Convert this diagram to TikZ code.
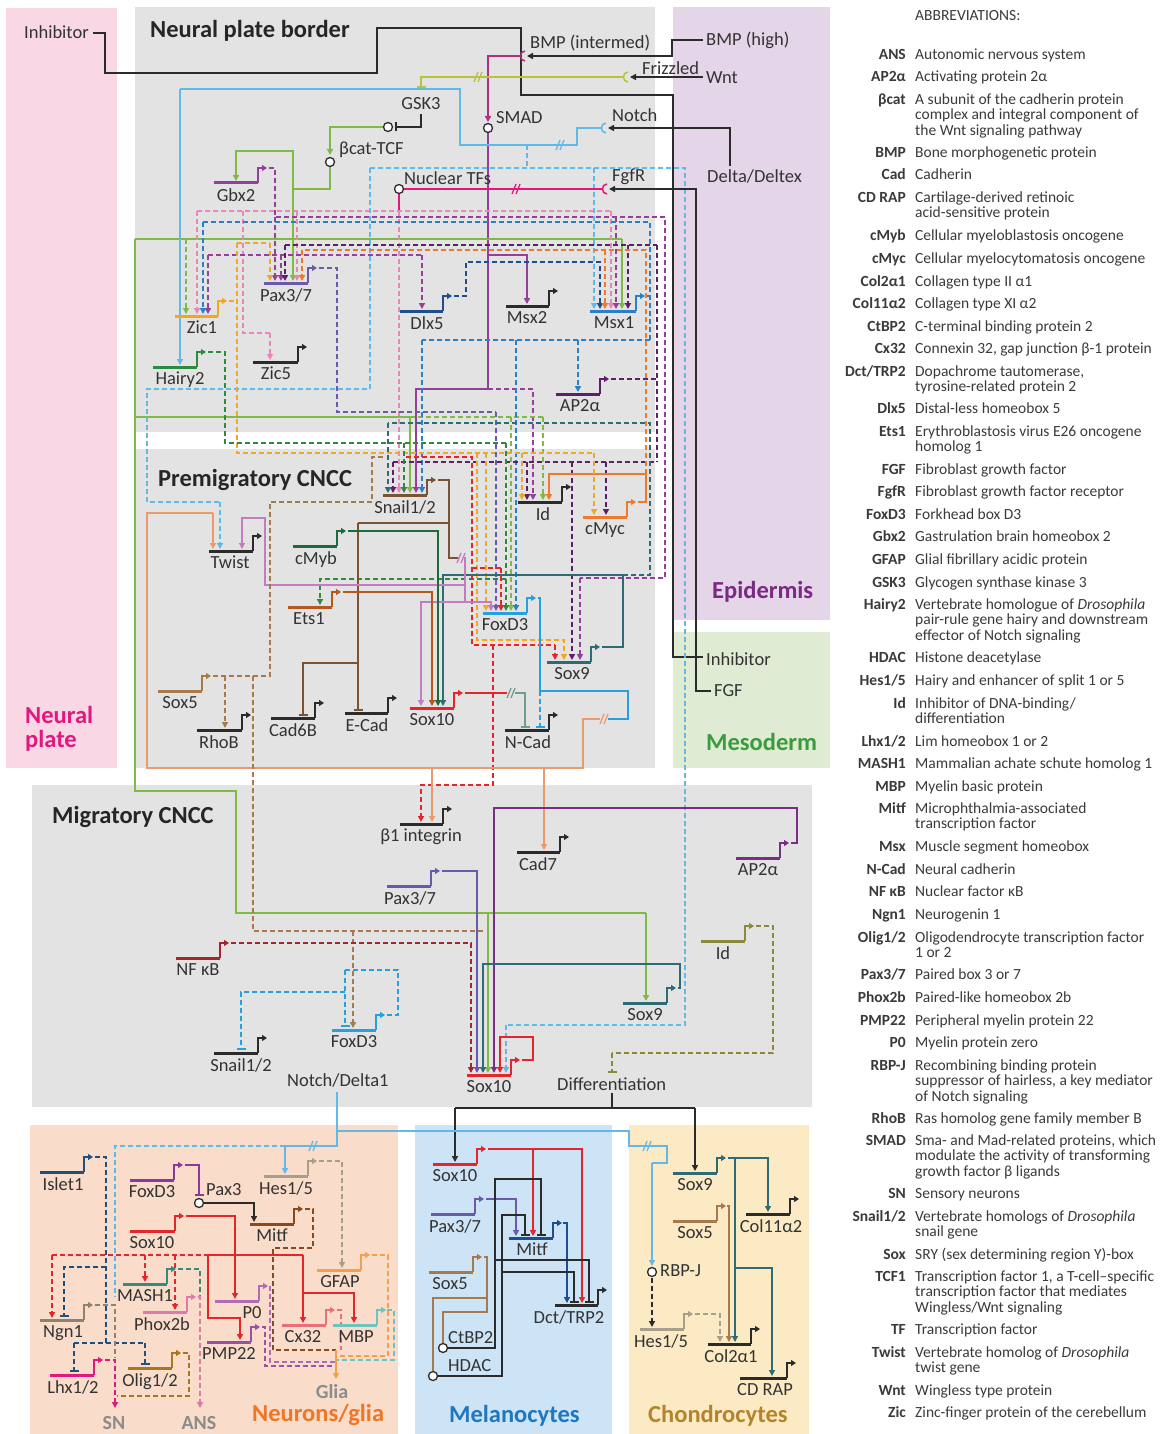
\documentclass[tikz,border=0pt]{standalone}
\usepackage{fontspec}
\setmainfont{Carlito}
\usetikzlibrary{arrows.meta}
\definecolor{ink}{HTML}{2B2B2B}
\definecolor{txt}{HTML}{333333}
\definecolor{abtxt}{HTML}{3A3A3A}
\definecolor{bgGray}{HTML}{E3E3E3}
\definecolor{npPink}{HTML}{F9D7E4}
\definecolor{epiPurple}{HTML}{E4D5E9}
\definecolor{mesoGreen}{HTML}{DFEBD2}
\definecolor{neurPeach}{HTML}{FADCCA}
\definecolor{melBlue}{HTML}{CDE3F6}
\definecolor{chonYellow}{HTML}{FCEAC4}
\definecolor{cMag}{HTML}{E2187F}
\definecolor{cMagP}{HTML}{B0307F}
\definecolor{cPink}{HTML}{EC86B8}
\definecolor{cPurple}{HTML}{93409B}
\definecolor{cPurple2}{HTML}{7B2D83}
\definecolor{cDP}{HTML}{5E1F6A}
\definecolor{cLav}{HTML}{6A5BAA}
\definecolor{cBlue}{HTML}{2B7FC6}
\definecolor{cSky}{HTML}{27A0DE}
\definecolor{cSkyL}{HTML}{62B9E8}
\definecolor{cDkBlue}{HTML}{1F4E8C}
\definecolor{cDkBlue2}{HTML}{21507E}
\definecolor{cGreen}{HTML}{7FBA44}
\definecolor{cYG}{HTML}{B7C33A}
\definecolor{cDkGreen}{HTML}{2E8B3E}
\definecolor{cDkGreen2}{HTML}{1E6B3A}
\definecolor{cOrange}{HTML}{F2A81E}
\definecolor{cOrange2}{HTML}{EE7A2E}
\definecolor{cOrangeL}{HTML}{F2A04E}
\definecolor{cSalmon}{HTML}{EB9A6D}
\definecolor{cBrown}{HTML}{7A5332}
\definecolor{cBrown2}{HTML}{A57B4D}
\definecolor{cRust}{HTML}{B3581F}
\definecolor{cTeal}{HTML}{2F6B74}
\definecolor{cGrayGreen}{HTML}{6E9E8E}
\definecolor{cRed}{HTML}{E3262B}
\definecolor{cDkRed}{HTML}{A3262B}
\definecolor{cOlive}{HTML}{8A8A3A}
\definecolor{cLilac}{HTML}{C57BC0}
\definecolor{cTan}{HTML}{A89E8C}
\definecolor{cMitf}{HTML}{8B4A1C}
\definecolor{cTealG}{HTML}{3A8A7A}
\definecolor{cGrayB}{HTML}{8E8270}
\definecolor{cPink2}{HTML}{E07AAE}
\definecolor{cPurpL}{HTML}{B36BB8}
\definecolor{cPinkR}{HTML}{E8707A}
\definecolor{cTealL}{HTML}{6CC4BE}
\definecolor{cPurpM}{HTML}{9B50A8}
\definecolor{cPurpleN}{HTML}{8B3A9B}
\definecolor{cOlB}{HTML}{A8781C}
\definecolor{labGray}{HTML}{8C8C8C}
\definecolor{cNeur}{HTML}{EE7624}
\definecolor{cMel}{HTML}{1E77BF}
\definecolor{cChon}{HTML}{B3842B}
\definecolor{cEpi}{HTML}{7A2A82}
\definecolor{cMeso}{HTML}{3B9B3F}
\newcommand\genefont{\fontsize{18.5}{21}\selectfont}
\newcommand\regfont{\fontsize{24.5}{24}\selectfont\bfseries}
\newcommand\abfont{\fontsize{15.5}{15.5}\selectfont}
\tikzset{
  ln/.style={line width=1.8pt},
  ac/.style={ln,-{Triangle[length=6pt,width=6pt]}},
  ih/.style={ln,-{Bar[width=9pt]}},
  ds/.style={dash pattern=on 5pt off 3pt},
  bk/.style={line width=2pt,draw=ink},
  gbar/.style={line width=3pt},
  gpro/.style={line width=2.2pt,-{Triangle[length=5pt,width=6pt]}},
  glab/.style={anchor=north,inner sep=0pt,font=\genefont,text=txt},
  tl/.style={anchor=west,inner sep=0pt,font=\genefont,text=txt},
  reg/.style={anchor=west,inner sep=0pt,font=\regfont,text=black!85},
  tfc/.style={circle,draw=ink,fill=white,line width=1.3pt,minimum size=9pt,inner sep=0pt},
}
\newcommand\gene[7]{%
  \draw[gbar,#2] (#3,#5) -- (#4,#5);
  \draw[gpro,#2] (#4,#5) -- (#4,#5-15) -- (#4+9,#5-15);
  \node[glab] (#1) at (#7,#5+5) {#6};}
\newcommand\brk[3]{\draw[#3,line width=1.3pt] (#1-4,#2+5) -- (#1,#2-5) (#1,#2+5) -- (#1+4,#2-5);}
\newcommand\rcp[3]{\draw[#3,line width=1.5pt] (#1+4,#2-5) .. controls (#1-2,#2-5) and (#1-2,#2+5) .. (#1+4,#2+5);}
\newcommand\abbr[4]{%
  \node[anchor=north east,inner sep=0pt,font=\abfont\bfseries,text=abtxt] (ak#1) at (906,#2) {\strut #3};
  \node[anchor=north west,inner sep=0pt,font=\abfont,text=abtxt,align=left] (ad#1) at (915,#2) {\strut #4};}
\begin{document}
\begin{tikzpicture}[x=1pt,y=-1pt]
\useasboundingbox (0,0) rectangle (1163,1434);
\fill[white] (0,0) rectangle (1163,1434);
% ---------- regions
\fill[npPink] (6,8) rectangle (117,768);
\fill[bgGray] (135,7) rectangle (655,432);
\fill[bgGray] (135,449) rectangle (655,768);
\fill[epiPurple] (673,7) rectangle (830,620);
\fill[mesoGreen] (673,632) rectangle (830,768);
\fill[bgGray] (32,785) rectangle (812,1107);
\fill[neurPeach] (30,1125) rectangle (398,1434);
\fill[melBlue] (415,1125) rectangle (612,1434);
\fill[chonYellow] (629,1125) rectangle (809,1434);

% ---------- top signalling
\draw[bk] (93,33) -- (105,33) -- (105,73) -- (377,73) -- (377,28) -- (521,28) -- (521,95) -- (673,95) -- (673,657) -- (703,657);
\draw[bk,ac] (703,40) -- (672,40) -- (672,56) -- (527,56);
\rcp{521}{56}{cMagP}
\draw[ln,cMagP,ac] (520,56) -- (488,56) -- (488,122);
\node[tfc] (smad) at (488,128) {};
\draw[ln,cPurple,ac] (488,133) -- (488,389) -- (416,389) -- (416,493);
\draw[ln,cPurple,ac] (488,255) -- (527,255) -- (527,304);
\draw[ln,cPurple,ds,ac] (488,389) -- (533,389) -- (533,500);
% Wnt
\draw[bk,ac] (703,77) -- (630,77);
\rcp{624}{77}{cYG}
\draw[ln,cYG,ih] (623,77) -- (421,77) -- (421,88);
\brk{478}{77}{cYG}
\draw[bk,ih] (421,114) -- (421,127) -- (395,127);
\node[tfc] (bcat) at (388,127) {};
\draw[ln,cGreen,ac] (383,127) -- (330,127) -- (330,155);
\node[tfc] (bcattcf) at (330,162) {};
\draw[ln,cGreen,ac] (330,167) -- (330,189) -- (293,189) -- (293,151) -- (236,151) -- (236,181);
\draw[ln,cGreen,ac] (293,189) -- (293,281);
% long green
\draw[ln,cGreen] (135,239) -- (622,239);
\draw[ln,cGreen,ac] (622,239) -- (622,309);
\draw[ln,cGreen] (135,239) -- (135,791) -- (236,791) -- (236,913) -- (646,913);
\draw[ln,cGreen,ac] (646,913) -- (646,1001);
\draw[ln,cGreen,ac] (488,913) -- (488,1073);
\draw[ln,cGreen,ac] (135,417) -- (410,417) -- (410,493);
\draw[ln,cGreen,ds,ac] (186,239) -- (186,314);
\draw[ln,cGreen,ds] (410,417) -- (543,417);
\draw[ln,cGreen,ds,ac] (543,417) -- (543,500);
\draw[ln,cGreen,ds,ac] (511,417) -- (511,611);
% Notch
\draw[bk,ac] (730,166) -- (730,128) -- (608,128);
\rcp{602}{128}{cSkyL}
\draw[ln,cSkyL] (601,128) -- (577,128) -- (577,145) -- (460,145) -- (460,89) -- (180,89);
\draw[ln,cSkyL,ac] (180,89) -- (180,365);
\brk{560}{145}{cSkyL}
\draw[ln,cSkyL,ds] (527,145) -- (527,168);
\draw[ln,cSkyL,ds] (370,168) -- (685,168) -- (685,1025) -- (506,1025);
\draw[ln,cSkyL,ds,ac] (506,1025) -- (506,1073);
\draw[ln,cSkyL,ds,ac] (594,168) -- (594,309);
\draw[ln,cSkyL,ds] (370,168) -- (370,389) -- (147,389) -- (147,502) -- (220,502);
\draw[ln,cSkyL,ds,ac] (220,502) -- (220,549);
% FGF
\draw[bk,ac] (711,691) -- (696,691) -- (696,189) -- (609,189);
\rcp{603}{189}{cMag}
\draw[ln,cMag] (602,189) -- (404,189);
\node[tfc] (ntf) at (399,189) {};
\brk{516}{189}{cMag}
\draw[ln,cMag] (399,194) -- (399,211);
% pink bus
\draw[ln,cPink,ds] (197,211) -- (611,211);
\draw[ln,cPink,ds,ac] (197,211) -- (197,314);
\draw[ln,cPink,ds] (243,211) -- (243,333) -- (270,333);
\draw[ln,cPink,ds,ac] (270,333) -- (270,360);
\draw[ln,cPink,ds,ac] (297,211) -- (297,281);
\draw[ln,cPink,ds,ac] (399,211) -- (399,493);
\draw[ln,cPink,ds,ac] (611,211) -- (611,309);
% Gbx2 outputs
\draw[ln,cPurple,ds] (269,168) -- (275,168) -- (275,217) -- (665,217) -- (665,578) -- (580,578);
\draw[ln,cPurple,ds,ac] (580,578) -- (580,660);
\draw[ln,cPurple,ds,ac] (275,217) -- (275,281);
\draw[ln,cPurple,ds,ac] (616,217) -- (616,309);
\draw[ln,cPurple,ds] (208,255) -- (422,255);
\draw[ln,cPurple,ds,ac] (208,255) -- (208,314);
\draw[ln,cPurple,ds,ac] (281,255) -- (281,281);
\draw[ln,cPurple,ds,ac] (422,255) -- (422,309);
% Msx1 outputs
\draw[ln,cBlue,ds] (647,296) -- (650,296);
\draw[ln,cBlue,ds] (650,340) -- (650,222) -- (203,222);
\draw[ln,cBlue,ds,ac] (203,222) -- (203,314);
\draw[ln,cBlue,ds] (650,340) -- (422,340);
\draw[ln,cBlue,ds,ac] (422,340) -- (422,493);
\draw[ln,cBlue,ds,ac] (516,340) -- (516,611);
\draw[ln,cBlue,ds,ac] (578,340) -- (578,392);
% Dlx5 output
\draw[ln,cDkBlue,ds,ac] (454,296) -- (466,296) -- (466,262) -- (600,262) -- (600,309);
% AP2a outputs
\draw[ln,cDP,ds] (611,379) -- (657,379);
\draw[ln,cDP,ds] (657,245) -- (657,462);
\draw[ln,cDP,ds] (285,245) -- (657,245);
\draw[ln,cDP,ds,ac] (285,245) -- (285,281);
\draw[ln,cDP,ds,ac] (628,245) -- (628,309);
\draw[ln,cDP,ds] (393,462) -- (657,462);
\draw[ln,cDP,ds,ac] (393,462) -- (393,493);
\draw[ln,cDP,ds,ac] (527,462) -- (527,500);
\draw[ln,cDP,ds,ac] (572,462) -- (572,660);
\draw[ln,cDP,ds,ac] (606,462) -- (606,515);
% cMyc outputs
\draw[ln,cOrange2,ac] (638,502) -- (646,502) -- (646,474) -- (549,474) -- (549,500);
\draw[ln,cOrange2,ds] (646,474) -- (646,250) -- (302,250);
\draw[ln,cOrange2,ds,ac] (302,250) -- (302,281);
\draw[ln,cOrange2,ds,ac] (605,250) -- (605,309);
% Zic1 outputs
\draw[ln,cOrange,ds] (229,301) -- (237,301);
\draw[ln,cOrange,ds] (237,243) -- (237,453) -- (594,453);
\draw[ln,cOrange,ds] (237,243) -- (270,243);
\draw[ln,cOrange,ds,ac] (270,243) -- (270,281);
\draw[ln,cOrange,ds,ac] (594,453) -- (594,515);
\draw[ln,cOrange,ds,ac] (522,453) -- (522,500);
\draw[ln,cOrange,ds,ac] (486,453) -- (486,611);
\draw[ln,cOrange,ds,ac] (477,453) -- (477,640) -- (564,640) -- (564,660);
% Pax3/7 outputs
\draw[ln,cLav,ds] (319,268) -- (337,268) -- (337,412) -- (496,412);
\draw[ln,cLav,ds,ac] (496,412) -- (496,611);
% Hairy2 outputs
\draw[ln,cDkGreen,ds] (208,352) -- (225,352) -- (225,443) -- (506,443);
\draw[ln,cDkGreen,ds,ac] (506,443) -- (506,611);
\draw[ln,cDkGreen,ds,ac] (404,443) -- (404,493);
\draw[ln,cDkGreen,ds,ac] (506,579) -- (320,579) -- (320,605);
% Sox9 premigratory
\draw[ln,cTeal,ac] (602,647) -- (623,647) -- (623,575) -- (443,575) -- (443,706);
\draw[ln,cTeal,ds] (623,575) -- (650,575) -- (650,423) -- (388,423);
\draw[ln,cTeal,ds,ac] (388,423) -- (388,493);
% red dashed
\draw[ln,cRed,ds] (406,457) -- (472,457) -- (472,645) -- (555,645);
\draw[ln,cRed,ds,ac] (555,645) -- (555,660);
\draw[ln,cRed,ds] (472,568) -- (501,568);
\draw[ln,cRed,ds,ac] (501,568) -- (501,611);
\draw[ln,cRed,ds,ac] (493,645) -- (493,785) -- (421,785) -- (421,822);
% Snail outputs
\draw[ln,cBrown] (438,480) -- (449,480) -- (449,558) -- (458,558);
\brk{461}{558}{cLilac}
\draw[ln,cBrown] (449,523) -- (358,523);
\draw[ln,cBrown,ih] (358,523) -- (358,711);
\draw[ln,cBrown,ih] (358,663) -- (303,663) -- (303,716);
\draw[ln,cLilac] (464,558) -- (465,558) -- (465,602);
\draw[ln,cLilac,ac] (465,585) -- (265,585) -- (265,518) -- (242,518) -- (242,549);
\draw[ln,cLilac,ac] (465,602) -- (421,602) -- (421,706);
\draw[ln,cLilac,ac] (465,602) -- (491,602) -- (491,611);
% cMyb, Ets1
\draw[ln,cDkGreen2,ac] (348,531) -- (438,531) -- (438,706);
\draw[ln,cRust,ac] (343,592) -- (432,592) -- (432,706);
% Sox10 -> N-Cad
\draw[ln,cRed] (465,693) -- (507,693);
\brk{511}{693}{cGrayGreen}
\draw[ln,cGrayGreen,ih] (515,693) -- (525,693) -- (525,728);
% FoxD3 premigratory
\draw[ln,cSky] (538,598) -- (540,598) -- (540,691) -- (628,691) -- (628,719) -- (608,719);
\brk{604}{719}{cSalmon}
\draw[ln,cSalmon] (600,719) -- (583,719) -- (583,768) -- (147,768) -- (147,513) -- (213,513);
\draw[ln,cSalmon,ac] (213,513) -- (213,549);
\draw[ln,cSalmon,ac] (432,768) -- (432,822);
\draw[ln,cSalmon,ac] (544,768) -- (544,850);
\draw[ln,cSky,ds,ih] (540,691) -- (540,728);
% Sox5 premigratory
\draw[ln,cBrown2,ds] (213,676) -- (270,676) -- (270,502) -- (372,502) -- (372,457) -- (384,457);
\draw[ln,cBrown2,ds,ac] (225,676) -- (225,728);
\draw[ln,cBrown2,ds] (253,676) -- (253,931) -- (483,931);
\draw[ln,cBrown2,ds,ac] (353,931) -- (353,1028);
% migratory
\draw[ln,cDkRed,ds,ac] (231,943) -- (471,943) -- (471,1073);
\draw[ln,cLav,ac] (442,871) -- (477,871) -- (477,1073);
\draw[ln,cPurple2,ac] (791,843) -- (797,843) -- (797,808) -- (494,808) -- (494,1073);
\draw[ln,cTeal,ac] (678,988) -- (680,988) -- (680,964) -- (483,964) -- (483,1073);
\draw[ln,cRed,ac] (522,1060) -- (533,1060) -- (533,1037) -- (500,1037) -- (500,1073);
\draw[ln,cSky,ds] (387,1015) -- (398,1015) -- (398,970) -- (345,970);
\draw[ln,cSky,ds,ih] (345,970) -- (345,1027);
\draw[ln,cSky,ds,ih] (345,992) -- (241,992) -- (241,1050);
\draw[ln,cOlive,ds] (756,926) -- (773,926) -- (773,1053) -- (612,1053);
\draw[ln,cOlive,ds,ih] (612,1053) -- (612,1073);
% Differentiation
\draw[bk] (612,1093) -- (612,1108);
\draw[bk] (455,1108) -- (695,1108);
\draw[bk,ac] (455,1108) -- (455,1162);
\draw[bk,ac] (695,1108) -- (695,1171);
% Notch/Delta1
\draw[ln,cSkyL] (337,1092) -- (337,1131) -- (629,1131) -- (629,1146) -- (667,1146) -- (667,1163) -- (652,1163);
\draw[ln,cSkyL,ac] (652,1163) -- (652,1266);
\brk{647}{1146}{cSkyL}
\node[tfc] (rbpj) at (652,1272) {};
\draw[ln,cSkyL] (337,1131) -- (337,1146) -- (285,1146);
\draw[ln,cSkyL,ac] (285,1146) -- (285,1174);
\brk{313}{1146}{cSkyL}
\draw[ln,cSkyL,ds] (285,1146) -- (115,1146) -- (115,1297);
% neurons / glia
\draw[ln,cDkBlue2,ds] (95,1157) -- (106,1157) -- (106,1343);
\draw[ln,cDkBlue2,ds,ih] (106,1267) -- (64,1267) -- (64,1317);
\draw[ln,cDkBlue2,ds] (74,1343) -- (145,1343);
\draw[ln,cDkBlue2,ds,ih] (74,1343) -- (74,1372);
\draw[ln,cDkBlue2,ds,ih] (145,1343) -- (145,1365);
\draw[ln,cRed,ac] (186,1216) -- (235,1216) -- (235,1299);
\draw[ln,cRed,ds] (52,1255) -- (208,1255);
\draw[ln,cRed,ds,ac] (52,1255) -- (52,1318);
\draw[ln,cRed,ds,ac] (145,1255) -- (145,1282);
\draw[ln,cRed,ds,ac] (175,1255) -- (175,1310);
\draw[ln,cRed] (208,1255) -- (303,1255);
\draw[ln,cRed,ac] (303,1255) -- (303,1323);
\draw[ln,cRed,ac] (208,1255) -- (208,1318) -- (240,1318) -- (240,1340);
\draw[ln,cRed,ac] (303,1293) -- (354,1293) -- (354,1323);
\draw[ln,cPurpleN,ih] (185,1165) -- (199,1165) -- (199,1196);
\node[tfc] (pax3c) at (199,1203) {};
\draw[bk,ac] (204,1203) -- (254,1203) -- (254,1222);
\draw[ln,cMitf,ds] (305,1209) -- (313,1209) -- (313,1248) -- (273,1248) -- (273,1350) -- (336,1350);
\draw[ln,cTan,ds,ac] (319,1161) -- (342,1161) -- (342,1268);
\draw[ln,cOrangeL,ds] (372,1255) -- (388,1255) -- (388,1356) -- (336,1356);
\draw[ln,cTealL,ds] (387,1310) -- (394,1310) -- (394,1360) -- (336,1360);
\draw[ln,cPinkR,ds] (337,1310) -- (341,1310) -- (341,1350);
\draw[ln,cPurpL,ds] (270,1286) -- (270,1362) -- (336,1362);
\draw[ln,cPurpM,ds] (262,1327) -- (265,1327) -- (265,1366) -- (336,1366);
\draw[ln,cOrangeL,ac] (336,1350) -- (336,1379);
\draw[ln,cGrayB,ds] (95,1305) -- (115,1305) -- (115,1358);
\draw[ln,cMag,ds,ac] (105,1360) -- (115,1360) -- (115,1408);
\draw[ln,cOlB,ds] (183,1353) -- (189,1353) -- (189,1396) -- (117,1396);
\draw[ln,cTealG,ds] (178,1269) -- (200,1269) -- (200,1296);
\draw[ln,cPink2,ds,ac] (198,1297) -- (200,1297) -- (200,1408);
% melanocytes
\draw[ln,cRed,ac] (488,1149) -- (582,1149) -- (582,1303);
\draw[ln,cRed,ac] (533,1149) -- (533,1236);
\draw[ln,cLav,ac] (486,1199) -- (516,1199) -- (516,1236);
\draw[ln,cDkBlue,ac] (563,1223) -- (567,1223) -- (567,1303);
\node[tfc] (ctbp) at (443,1348) {};
\draw[bk,ih] (448,1348) -- (495,1348) -- (495,1179) -- (541,1179) -- (541,1236);
\draw[bk,ih] (495,1260) -- (589,1260) -- (589,1303);
\node[tfc] (hdac) at (433,1376) {};
\draw[bk,ih] (438,1376) -- (502,1376) -- (502,1215) -- (525,1215) -- (525,1236);
\draw[bk,ih] (502,1272) -- (574,1272) -- (574,1303);
\draw[ln,cBrown2] (484,1257) -- (487,1257) -- (487,1312) -- (443,1312) -- (443,1343);
\draw[ln,cBrown2] (487,1298) -- (433,1298) -- (433,1371);
% chondrocytes
\draw[ln,cTeal,ac] (728,1158) -- (768,1158) -- (768,1212);
\draw[ln,cTeal,ac] (735,1158) -- (735,1342);
\draw[ln,cTeal,ac] (735,1268) -- (772,1268) -- (772,1376);
\draw[ln,cBrown2,ac] (727,1206) -- (729,1206) -- (729,1342);
\draw[ln,ink,ds,ac] (652,1278) -- (652,1327);
\draw[ln,cTan,ds,ac] (695,1314) -- (720,1314) -- (720,1342);

% ---------- genes
\gene{gGbx}{cPurple}{214}{258}{183}{Gbx2}{236}
\gene{gPaxA}{cLav}{264}{308}{283}{Pax3/7}{286}
\gene{gZicA}{cOrange}{175}{218}{316}{Zic1}{202}
\gene{gHairy}{cDkGreen}{153}{197}{367}{Hairy2}{180}
\gene{gZicB}{ink}{253}{298}{362}{Zic5}{276}
\gene{gDlx}{cDkBlue}{400}{443}{311}{Dlx5}{427}
\gene{gMsxB}{ink}{506}{549}{306}{Msx2}{527}
\gene{gMsxA}{cBlue}{590}{636}{311}{Msx1}{614}
\gene{gApA}{cDP}{556}{600}{394}{AP2α}{580}
\gene{gSnailA}{cBrown}{383}{427}{495}{Snail1/2}{405}
\gene{gIdA}{ink}{518}{562}{502}{Id}{543}
\gene{gMyc}{cOrange2}{583}{627}{517}{cMyc}{605}
\gene{gTwist}{ink}{209}{253}{551}{Twist}{230}
\gene{gMyb}{cDkGreen2}{293}{337}{546}{cMyb}{316}
\gene{gEts}{cRust}{288}{332}{607}{Ets1}{309}
\gene{gFoxA}{cSky}{483}{527}{613}{FoxD3}{505}
\gene{gSoxNineA}{cTeal}{547}{591}{662}{Sox9}{572}
\gene{gSoxFiveA}{cBrown2}{158}{202}{691}{Sox5}{180}
\gene{gRhoB}{ink}{197}{242}{730}{RhoB}{219}
\gene{gCadSix}{ink}{271}{315}{718}{Cad6B}{293}
\gene{gECad}{ink}{345}{388}{713}{E-Cad}{367}
\gene{gSoxTenA}{cRed}{410}{454}{708}{Sox10}{432}
\gene{gNCad}{ink}{505}{549}{730}{N-Cad}{528}
\gene{gIntg}{ink}{400}{443}{824}{β1 integrin}{421}
\gene{gCadSeven}{ink}{517}{560}{852}{Cad7}{538}
\gene{gApB}{cPurple2}{736}{780}{858}{AP2α}{758}
\gene{gPaxB}{cLav}{387}{431}{886}{Pax3/7}{410}
\gene{gIdB}{cOlive}{701}{745}{941}{Id}{723}
\gene{gNfkb}{cDkRed}{176}{220}{958}{NF κB}{198}
\gene{gSoxNineB}{cTeal}{623}{667}{1003}{Sox9}{645}
\gene{gFoxB}{cSky}{332}{376}{1030}{FoxD3}{354}
\gene{gSnailB}{ink}{214}{258}{1053}{Snail1/2}{241}
\gene{gSoxTenB}{cRed}{467}{511}{1075}{Sox10}{489}
\gene{gIslet}{cDkBlue2}{40}{84}{1172}{Islet1}{63}
\gene{gFoxC}{cPurpleN}{130}{174}{1180}{FoxD3}{152}
\gene{gHesA}{cTan}{264}{308}{1176}{Hes1/5}{286}
\gene{gMitfA}{cMitf}{250}{294}{1224}{Mitf}{272}
\gene{gSoxTenC}{cRed}{130}{175}{1231}{Sox10}{152}
\gene{gGfap}{cOrangeL}{317}{361}{1270}{GFAP}{340}
\gene{gMash}{cTealG}{123}{167}{1284}{MASH1}{145}
\gene{gNgn}{cGrayB}{40}{84}{1320}{Ngn1}{63}
\gene{gPhox}{cPink2}{143}{187}{1312}{Phox2b}{162}
\gene{gPzero}{cPurpL}{215}{259}{1301}{P0}{252}
\gene{gCx}{cPinkR}{282}{326}{1325}{Cx32}{303}
\gene{gMbp}{cTealL}{333}{377}{1325}{MBP}{356}
\gene{gPmp}{cPurpM}{207}{251}{1342}{PMP22}{229}
\gene{gLhx}{cMag}{50}{94}{1375}{Lhx1/2}{73}
\gene{gOlig}{cOlB}{128}{172}{1368}{Olig1/2}{150}
\gene{gSoxTenD}{cRed}{433}{477}{1164}{Sox10}{455}
\gene{gPaxC}{cLav}{431}{475}{1214}{Pax3/7}{455}
\gene{gMitfB}{cDkBlue}{509}{553}{1238}{Mitf}{532}
\gene{gSoxFiveB}{cBrown2}{429}{473}{1272}{Sox5}{450}
\gene{gDct}{ink}{555}{598}{1305}{Dct/TRP2}{569}
\gene{gSoxNineC}{cTeal}{673}{717}{1173}{Sox9}{695}
\gene{gSoxFiveC}{cBrown2}{673}{717}{1221}{Sox5}{695}
\gene{gCol}{ink}{746}{790}{1214}{Col11α2}{771}
\gene{gHesB}{cTan}{640}{684}{1329}{Hes1/5}{661}
\gene{gColB}{ink}{708}{751}{1344}{Col2α1}{731}
\gene{gCdrap}{ink}{740}{787}{1378}{CD RAP}{765}

% ---------- text labels
\node[tl] (tInhA) at (24,32) {Inhibitor};
\node[tl] (tBmpI) at (530,43) {BMP (intermed)};
\node[tl] (tBmpH) at (706,40) {BMP (high)};
\node[tl] (tFz) at (642,68) {Frizzled};
\node[tl] (tWnt) at (706,78) {Wnt};
\node[glab,anchor=center] (tGsk) at (421,104) {GSK3};
\node[tl] (tSmad) at (496,118) {SMAD};
\node[tl] (tNotch) at (612,115) {Notch};
\node[tl] (tBcat) at (339,150) {βcat-TCF};
\node[tl] (tDelta) at (707,176) {Delta/Deltex};
\node[tl] (tNtf) at (404,178) {Nuclear TFs};
\node[tl] (tFgfr) at (612,177) {FgfR};
\node[tl] (tInhB) at (706,659) {Inhibitor};
\node[tl] (tFgf) at (714,691) {FGF};
\node[tl] (tNd) at (287,1080) {Notch/Delta1};
\node[tl] (tDiff) at (557,1084) {Differentiation};
\node[tl] (tPax) at (206,1190) {Pax3};
\node[tl] (tRbp) at (660,1271) {RBP-J};
\node[tl] (tCtbp) at (448,1338) {CtBP2};
\node[tl] (tHdac) at (448,1366) {HDAC};
% region labels
\node[reg] (rNpb) at (150,31) {Neural plate border};
\node[reg] (rPre) at (158,480) {Premigratory CNCC};
\node[reg] (rMig) at (52,817) {Migratory CNCC};
\node[reg,text=cMag,align=left] (rNp) at (25,729) {Neural\\plate};
\node[reg,text=cEpi] (rEpi) at (712,592) {Epidermis};
\node[reg,text=cMeso] (rMeso) at (706,742) {Mesoderm};
\node[reg,text=cNeur] (rNeur) at (252,1415) {Neurons/glia};
\node[reg,text=cMel] (rMel) at (449,1416) {Melanocytes};
\node[reg,text=cChon] (rChon) at (648,1416) {Chondrocytes};
\node[anchor=center,inner sep=0pt,font=\fontsize{20}{22}\selectfont\bfseries,text=labGray] (tGlia) at (332,1392) {Glia};
\node[anchor=center,inner sep=0pt,font=\fontsize{20}{22}\selectfont\bfseries,text=labGray] (tSn) at (114,1423) {SN};
\node[anchor=center,inner sep=0pt,font=\fontsize{20}{22}\selectfont\bfseries,text=labGray] (tAns) at (199,1423) {ANS};

% ---------- abbreviations
\node[anchor=west,inner sep=0pt,font=\abfont,text=abtxt] (abtitle) at (915,16) {ABBREVIATIONS:};
\abbr{1}{48}{ANS}{Autonomic nervous system}
\abbr{2}{70}{AP2α}{Activating protein 2α}
\abbr{3}{93}{βcat}{A subunit of the cadherin protein\\complex and integral component of\\the Wnt signaling pathway}
\abbr{4}{146}{BMP}{Bone morphogenetic protein}
\abbr{5}{168}{Cad}{Cadherin}
\abbr{6}{191}{CD RAP}{Cartilage-derived retinoic\\acid-sensitive protein}
\abbr{7}{229}{cMyb}{Cellular myeloblastosis oncogene}
\abbr{8}{252}{cMyc}{Cellular myelocytomatosis oncogene}
\abbr{9}{275}{Col2α1}{Collagen type II α1}
\abbr{10}{297}{Col11α2}{Collagen type XI α2}
\abbr{11}{320}{CtBP2}{C-terminal binding protein 2}
\abbr{12}{342}{Cx32}{Connexin 32, gap junction β-1 protein}
\abbr{13}{365}{Dct/TRP2}{Dopachrome tautomerase,\\tyrosine-related protein 2}
\abbr{14}{402}{Dlx5}{Distal-less homeobox 5}
\abbr{15}{425}{Ets1}{Erythroblastosis virus E26 oncogene\\homolog 1}
\abbr{16}{463}{FGF}{Fibroblast growth factor}
\abbr{17}{485}{FgfR}{Fibroblast growth factor receptor}
\abbr{18}{508}{FoxD3}{Forkhead box D3}
\abbr{19}{530}{Gbx2}{Gastrulation brain homeobox 2}
\abbr{20}{553}{GFAP}{Glial fibrillary acidic protein}
\abbr{21}{576}{GSK3}{Glycogen synthase kinase 3}
\abbr{22}{598}{Hairy2}{Vertebrate homologue of \textit{Drosophila}\\pair-rule gene hairy and downstream\\effector of Notch signaling}
\abbr{23}{651}{HDAC}{Histone deacetylase}
\abbr{24}{674}{Hes1/5}{Hairy and enhancer of split 1 or 5}
\abbr{25}{697}{Id}{Inhibitor of DNA-binding/\\differentiation}
\abbr{26}{735}{Lhx1/2}{Lim homeobox 1 or 2}
\abbr{27}{757}{MASH1}{Mammalian achate schute homolog 1}
\abbr{28}{780}{MBP}{Myelin basic protein}
\abbr{29}{802}{Mitf}{Microphthalmia-associated\\transcription factor}
\abbr{30}{840}{Msx}{Muscle segment homeobox}
\abbr{31}{863}{N-Cad}{Neural cadherin}
\abbr{32}{885}{NF κB}{Nuclear factor κB}
\abbr{33}{908}{Ngn1}{Neurogenin 1}
\abbr{34}{931}{Olig1/2}{Oligodendrocyte transcription factor\\1 or 2}
\abbr{35}{968}{Pax3/7}{Paired box 3 or 7}
\abbr{36}{991}{Phox2b}{Paired-like homeobox 2b}
\abbr{37}{1014}{PMP22}{Peripheral myelin protein 22}
\abbr{38}{1036}{P0}{Myelin protein zero}
\abbr{39}{1059}{RBP-J}{Recombining binding protein\\suppressor of hairless, a key mediator\\of Notch signaling}
\abbr{40}{1112}{RhoB}{Ras homolog gene family member B}
\abbr{41}{1134}{SMAD}{Sma- and Mad-related proteins, which\\modulate the activity of transforming\\growth factor β ligands}
\abbr{42}{1187}{SN}{Sensory neurons}
\abbr{43}{1210}{Snail1/2}{Vertebrate homologs of \textit{Drosophila}\\snail gene}
\abbr{44}{1248}{Sox}{SRY (sex determining region Y)-box}
\abbr{45}{1270}{TCF1}{Transcription factor 1, a T-cell--specific\\transcription factor that mediates\\Wingless/Wnt signaling}
\abbr{46}{1323}{TF}{Transcription factor}
\abbr{47}{1346}{Twist}{Vertebrate homolog of \textit{Drosophila}\\twist gene}
\abbr{48}{1384}{Wnt}{Wingless type protein}
\abbr{49}{1406}{Zic}{Zinc-finger protein of the cerebellum}
\end{tikzpicture}
\end{document}
